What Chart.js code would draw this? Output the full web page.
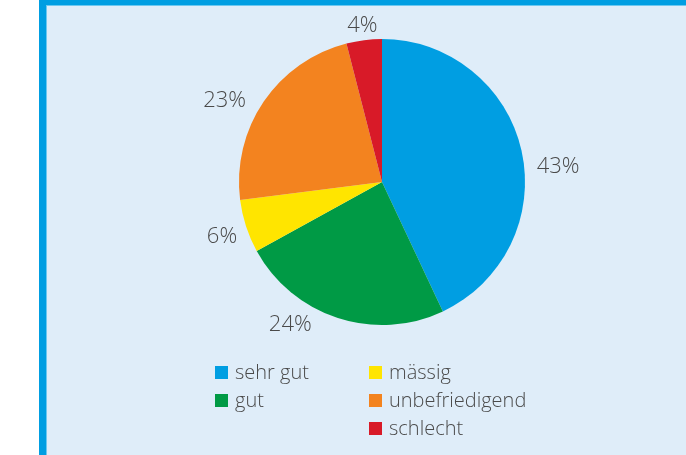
<!DOCTYPE html>
<html>
<head>
<meta charset="utf-8">
<script src="https://cdn.jsdelivr.net/npm/chart.js@4/dist/chart.umd.min.js"></script>
<style>
  html, body { margin: 0; padding: 0; width: 686px; height: 455px; overflow: hidden; background: #ffffff; }
  #frame { position: absolute; left: 39px; top: 0; width: 647px; height: 455px; background: #009ee2; }
  #inner { position: absolute; left: 7px; top: 5px; right: 0; bottom: 0; background: #dfedf9; box-shadow: inset 1px 1px 0 #6cc8f0; }
  #chartWrap { position: absolute; left: 0; top: 0; width: 686px; height: 455px; }
  #legend { position: absolute; left: 0; top: 0; width: 686px; height: 455px; font-family: "Open Sans", sans-serif; font-weight: 300; font-size: 20px; color: #4a4a4a; }
  .item { position: absolute; display: flex; align-items: center; white-space: nowrap; line-height: 28px; }
  .box { width: 13px; height: 13px; margin-right: 7px; }
</style>
</head>
<body>
<div id="frame"><div id="inner"></div></div>
<div id="chartWrap"><canvas id="c" width="686" height="455"></canvas></div>
<div id="legend"></div>
<script>
const categories = ["sehr gut", "gut", "mässig", "unbefriedigend", "schlecht"];
const shares = [43, 24, 6, 23, 4];
const percentLabels = ["43%", "24%", "6%", "23%", "4%"];
const sliceColors = ["#009ee2", "#009a45", "#ffe500", "#f3831f", "#d81a28"];

// legend layout (column-major: 2 rows in column 1, 3 rows in column 2)
const legendSlots = [
  { left: 215, top: 358 }, { left: 215, top: 386 },
  { left: 369, top: 358 }, { left: 369, top: 386 }, { left: 369, top: 414 }
];

const labelPlugin = {
  id: 'outerLabels',
  afterDatasetsDraw(chart, args, opts) {
    const ctx = chart.ctx;
    const meta = chart.getDatasetMeta(0);
    ctx.save();
    ctx.font = '300 ' + opts.fontSize + 'px "Open Sans", sans-serif';
    ctx.fillStyle = opts.color;
    ctx.textAlign = 'center';
    ctx.textBaseline = 'alphabetic';
    meta.data.forEach((arc, i) => {
      const p = arc.getProps(['x', 'y', 'startAngle', 'endAngle', 'outerRadius'], true);
      const mid = (p.startAngle + p.endAngle) / 2 + opts.angleShift[i] * Math.PI / 180;
      const r = p.outerRadius + opts.extra[i];
      const x = p.x + Math.cos(mid) * r;
      const y = p.y + Math.sin(mid) * r;
      ctx.fillText(percentLabels[i], x, y + opts.fontSize * 0.36);
    });
    ctx.restore();
  }
};

new Chart(document.getElementById('c'), {
  type: 'pie',
  data: {
    labels: categories,
    datasets: [{
      data: shares,
      backgroundColor: sliceColors,
      borderWidth: 0
    }]
  },
  options: {
    responsive: false,
    animation: false,
    layout: { padding: { left: 239, right: 161, top: 39, bottom: 130 } },
    plugins: {
      legend: { display: false },
      tooltip: { enabled: false },
      outerLabels: {
        fontSize: 22,
        color: '#4a4a4a',
        angleShift: [7.1, 15.1, -0.3, -6.3, 0.1],
        extra: [34, 25, 25.5, 35, 16]
      }
    }
  },
  plugins: [labelPlugin]
});

const legend = document.getElementById('legend');
categories.forEach((name, i) => {
  const el = document.createElement('div');
  el.className = 'item';
  el.style.left = legendSlots[i].left + 'px';
  el.style.top = legendSlots[i].top + 'px';
  const b = document.createElement('span');
  b.className = 'box';
  b.style.background = sliceColors[i];
  const t = document.createElement('span');
  t.textContent = name;
  el.appendChild(b); el.appendChild(t);
  legend.appendChild(el);
});
</script>
</body>
</html>
